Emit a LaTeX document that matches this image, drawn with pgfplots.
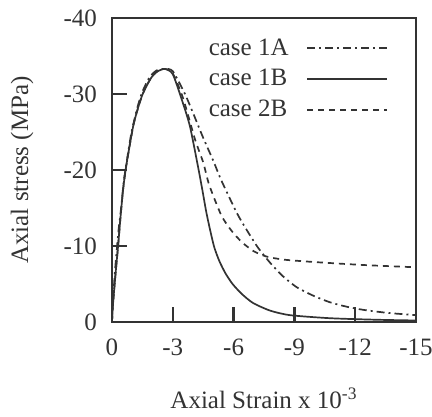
\documentclass[border=0pt]{standalone}
\usepackage{pgfplots}
\pgfplotsset{compat=1.18}
\usepackage{fontspec}
\setmainfont{Liberation Serif}
\usetikzlibrary{calc}
\definecolor{ink}{HTML}{333333}

\begin{document}
\begin{tikzpicture}
\begin{axis}[
  name=ax, scale only axis, width=152pt, height=152pt,
  xmin=-15, xmax=0, ymin=-40, ymax=0,
  x dir=reverse, y dir=reverse,
  axis line style={ink, line width=1.2pt},
  xtick={0,-3,-6,-9,-12,-15}, xticklabels={0,-3,-6,-9,-12,-15},
  ytick={0,-10,-20,-30,-40}, yticklabels={0,-10,-20,-30,-40},
  tick align=inside, xtick pos=left, ytick pos=left,
  major tick length=7.5pt,
  tick style={ink, line width=1.2pt},
  font=\fontsize{12.5}{15}\selectfont,
  tick label style={text=ink},
  xticklabel style={yshift=-5pt},
  yticklabel style={xshift=-4pt},
  xlabel={Axial Strain x 10\textsuperscript{-3}},
  ylabel={Axial stress (MPa)},
  xlabel style={at={(axis description cs:0.5,-0.25)}, anchor=center, text=ink},
  ylabel style={at={(axis description cs:-0.296,0.5)}, anchor=center, text=ink},
  legend plot pos=right, legend cell align=left,
  legend style={draw=none, fill=none, at={(axis description cs:0.93,0.96)}, anchor=north east,
    font=\fontsize{12.5}{15}\selectfont, text=ink, row sep=1.6pt},
  legend image code/.code={\path (0pt,0pt); \draw[#1] (7pt,0pt) -- (47pt,0pt);},
  every axis plot/.append style={smooth, tension=0.4},
]
% case 1A
\addplot[ink, line width=0.85pt, dash pattern=on 4pt off 2pt on 1pt off 2pt] coordinates {
 (0,0) (-0.03,-2) (-0.08,-4) (-0.14,-6.5) (-0.22,-9) (-0.32,-12) (-0.45,-15) (-0.58,-18.5) (-0.72,-21) (-0.95,-24.8)
 (-1.25,-28.2) (-1.5,-30.3) (-1.85,-32.2) (-2.2,-33.1) (-2.6,-33.3) (-3.0,-33) (-3.6,-30) (-4.0,-27.5) (-4.49,-24.3)
 (-5.0,-21.2) (-5.4,-18.6) (-6.17,-14.3) (-6.65,-12.1) (-7.2,-9.8) (-7.8,-7.8) (-8.4,-6.1) (-9.1,-4.6) (-9.9,-3.5)
 (-10.75,-2.6) (-11.6,-2.0) (-12.4,-1.6) (-13.6,-1.2) (-15,-0.9)};
% case 1B
\addplot[ink, line width=0.85pt, solid] coordinates {
 (0,0) (-0.04,-2) (-0.1,-4) (-0.18,-6.5) (-0.3,-10) (-0.42,-13.8) (-0.55,-17.5) (-0.7,-20.5) (-1.04,-25.7)
 (-1.3,-28.3) (-1.53,-30.1) (-1.9,-32) (-2.2,-32.9) (-2.6,-33.3) (-3.0,-32.6) (-3.5,-28.8) (-3.85,-25.7)
 (-4.24,-20.5) (-4.45,-17.5) (-4.65,-14.5) (-4.85,-12) (-5.05,-9.8) (-5.3,-8) (-5.6,-6.4) (-5.95,-5)
 (-6.4,-3.7) (-6.96,-2.5) (-7.8,-1.5) (-8.78,-0.9) (-10.75,-0.5) (-13,-0.3) (-15,-0.2)};
% case 2B
\addplot[ink, line width=0.85pt, dash pattern=on 3pt off 2.5pt] coordinates {
 (0,0) (-0.04,-2) (-0.1,-4) (-0.18,-6.5) (-0.3,-10) (-0.42,-13.8) (-0.55,-17.5) (-0.7,-20.5) (-1.04,-25.7)
 (-1.3,-28.3) (-1.53,-30.1) (-1.9,-32) (-2.2,-32.9) (-2.6,-33.3) (-3.0,-32.7) (-3.5,-29.5) (-4.1,-24)
 (-4.5,-21) (-4.8,-18) (-5.4,-14) (-5.9,-12) (-6.41,-10.5) (-7.0,-9.3) (-7.64,-8.6) (-8.5,-8.2) (-9.93,-7.9)
 (-12.4,-7.5) (-15,-7.2)};
\legend{case 1A, case 1B, case 2B}
\end{axis}
\pgfresetboundingbox
\path ($(ax.south west)+(-56pt,-47pt)$) rectangle ($(ax.north east)+(8pt,9pt)$);
\end{tikzpicture}
\end{document}
